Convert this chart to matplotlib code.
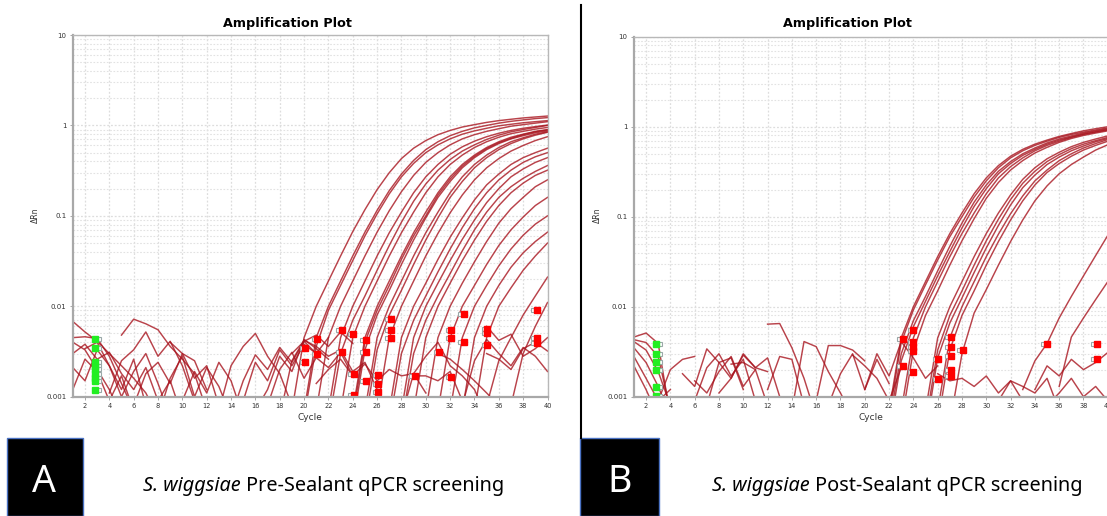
# qPCR 扩增曲线，左右两块（封闭前/封闭后）
import matplotlib.pyplot as plt
from matplotlib.patches import Rectangle
from matplotlib.ticker import NullFormatter
import numpy as np

# ---- A: Pre-Sealant ----
# 上升曲线，每条最后一个值是第40个循环
pre_rise = [
    [0.0007, 0.0045, 0.010, 0.019, 0.036, 0.067, 0.117, 0.195, 0.30, 0.43, 0.56, 0.68, 0.79, 0.88, 0.96, 1.02, 1.08, 1.13, 1.17, 1.21, 1.24, 1.27],
    [0.0007, 0.0045, 0.010, 0.019, 0.036, 0.066, 0.115, 0.19, 0.29, 0.41, 0.54, 0.66, 0.77, 0.86, 0.94, 1.0, 1.06, 1.11, 1.15, 1.19, 1.22],
    [0.0006, 0.0036, 0.009, 0.017, 0.032, 0.06, 0.105, 0.175, 0.27, 0.38, 0.50, 0.61, 0.71, 0.80, 0.87, 0.93, 0.99, 1.03, 1.07, 1.10, 1.13],
    [0.0007, 0.0045, 0.010, 0.019, 0.036, 0.066, 0.114, 0.185, 0.28, 0.39, 0.50, 0.61, 0.71, 0.79, 0.86, 0.92, 0.98, 1.02, 1.06, 1.10],
    [0.0007, 0.0045, 0.010, 0.019, 0.036, 0.065, 0.11, 0.18, 0.27, 0.37, 0.48, 0.58, 0.67, 0.75, 0.82, 0.88, 0.93, 0.97, 1.01],
    [0.0005, 0.003, 0.007, 0.013, 0.025, 0.047, 0.085, 0.145, 0.225, 0.32, 0.42, 0.52, 0.61, 0.70, 0.78, 0.85, 0.90, 0.95, 1.0],
    [0.0007, 0.0045, 0.010, 0.019, 0.036, 0.065, 0.11, 0.18, 0.27, 0.37, 0.47, 0.57, 0.66, 0.74, 0.81, 0.86, 0.91, 0.95],
    [0.0007, 0.0045, 0.010, 0.019, 0.036, 0.065, 0.11, 0.18, 0.27, 0.37, 0.47, 0.57, 0.66, 0.74, 0.80, 0.86, 0.90],
    [0.0005, 0.0033, 0.008, 0.015, 0.029, 0.054, 0.095, 0.16, 0.24, 0.34, 0.44, 0.54, 0.63, 0.71, 0.77, 0.83, 0.87],
    [0.0006, 0.004, 0.009, 0.017, 0.033, 0.06, 0.10, 0.17, 0.255, 0.355, 0.455, 0.555, 0.645, 0.72, 0.79, 0.85, 0.89],
    [0.0007, 0.0045, 0.010, 0.019, 0.036, 0.065, 0.11, 0.18, 0.27, 0.37, 0.47, 0.57, 0.66, 0.73, 0.80, 0.85],
    [0.0005, 0.0033, 0.008, 0.015, 0.029, 0.054, 0.095, 0.16, 0.24, 0.34, 0.44, 0.54, 0.63, 0.71, 0.78, 0.84],
    [0.0007, 0.0045, 0.010, 0.019, 0.036, 0.064, 0.108, 0.17, 0.25, 0.34, 0.43, 0.52, 0.60, 0.68, 0.75],
    [0.0007, 0.0045, 0.010, 0.018, 0.033, 0.058, 0.095, 0.15, 0.22, 0.29, 0.37, 0.44, 0.50, 0.56],
    [0.0005, 0.003, 0.007, 0.013, 0.024, 0.043, 0.074, 0.12, 0.18, 0.25, 0.32, 0.39, 0.45, 0.50],
    [0.0007, 0.0045, 0.010, 0.018, 0.032, 0.055, 0.09, 0.14, 0.20, 0.27, 0.33, 0.39, 0.44],
    [0.0005, 0.003, 0.007, 0.013, 0.023, 0.041, 0.07, 0.11, 0.16, 0.21, 0.26, 0.31, 0.36],
    [0.0007, 0.0045, 0.010, 0.018, 0.032, 0.054, 0.087, 0.13, 0.18, 0.23, 0.28, 0.32],
    [0.0007, 0.0045, 0.010, 0.018, 0.031, 0.052, 0.083, 0.12, 0.16, 0.21, 0.25],
    [0.0007, 0.0045, 0.010, 0.017, 0.029, 0.047, 0.07, 0.097, 0.13, 0.16],
    [0.0007, 0.0045, 0.010, 0.017, 0.028, 0.043, 0.061, 0.081, 0.10],
    [0.0007, 0.0045, 0.010, 0.017, 0.027, 0.039, 0.052, 0.066],
    [0.0007, 0.0045, 0.010, 0.016, 0.025, 0.036, 0.05],
    [0.0008, 0.0025, 0.0045, 0.008, 0.013, 0.021],
    [0.0008, 0.003, 0.006, 0.011],
]
# 基线噪声：起始循环 + 数值
pre_noise_start = [1, 1, 1, 1, 1, 5, 4, 6, 2, 8, 13, 14, 15, 16, 17, 18, 21, 28, 33, 35, 9, 1, 10, 19, 29, 35, 31]
pre_noise = [
    [0.0068, 0.0052, 0.0041, 0.0030, 0.0022, 0.0016, 0.0011, 0.0006],
    [0.0045, 0.0046, 0.0044, 0.0028, 0.0014, 0.0007],
    [0.0030, 0.0038, 0.0026, 0.0031, 0.0018, 0.0012, 0.0021, 0.0009, 0.0015, 0.0006],
    [0.0021, 0.0015, 0.0033, 0.0022, 0.0012, 0.0026, 0.0008],
    [0.0012, 0.0026, 0.0019, 0.0009, 0.0017, 0.0007],
    [0.0048, 0.0072, 0.0064, 0.0055, 0.0036, 0.0026, 0.0018, 0.0007],
    [0.0011, 0.0025, 0.0033, 0.0052, 0.0028, 0.0041, 0.0022, 0.0009],
    [0.0008, 0.0018, 0.0024, 0.0014, 0.0030, 0.0016, 0.0022, 0.0008],
    [0.0034, 0.0040, 0.0022, 0.0010, 0.0019, 0.0030, 0.0014, 0.0006],
    [0.0006, 0.0016, 0.0028, 0.0010, 0.0021, 0.0013, 0.0006],
    [0.0007, 0.0022, 0.0036, 0.0050, 0.0028, 0.0018, 0.0008],
    [0.0006, 0.0015, 0.0029, 0.0020, 0.0035, 0.0024, 0.0041, 0.0030],
    [0.0009, 0.0024, 0.0015, 0.0033, 0.0022, 0.0038, 0.0030, 0.0045],
    [0.0007, 0.0012, 0.0028, 0.0019, 0.0043, 0.0034, 0.0026],
    [0.0008, 0.0020, 0.0031, 0.0016, 0.0027, 0.0021, 0.0031, 0.0017],
    [0.0006, 0.0025, 0.0042, 0.0036, 0.0028, 0.0033, 0.0019, 0.0024, 0.0012],
    [0.0014, 0.0020, 0.0026, 0.0017, 0.0023, 0.0015, 0.0020, 0.0017, 0.0018, 0.0011],
    [0.0006, 0.0018, 0.0028, 0.0040, 0.0022, 0.0017, 0.0012, 0.0006],
    [0.0008, 0.0025, 0.0043, 0.0030, 0.0022, 0.0035, 0.0028, 0.0019],
    [0.0030, 0.0026, 0.0020, 0.0034, 0.0040, 0.0032],
    [0.0040, 0.0030, 0.0025, 0.0012],
    [0.0040, 0.0033, 0.0020, 0.0012, 0.0006],
    [0.0009, 0.0019, 0.0011, 0.0024, 0.0015, 0.0006],
    [0.0030, 0.0041, 0.0048, 0.0036, 0.0052, 0.0039],
    [0.0017, 0.0017, 0.0015, 0.0019, 0.0009],
    [0.0060, 0.0042, 0.0049, 0.0028, 0.0034, 0.0045],
    [0.0030, 0.0026, 0.0020, 0.0015, 0.0011, 0.0008],
]
pre_red_cyc = [20.1, 20.1, 21.1, 21.1, 23.1, 23.1, 24.05, 24.1, 25.1, 25.1, 25.1, 24.1, 26.1, 26.1, 26.1,
               27.15, 27.15, 27.15, 29.1, 31.1, 32.1, 32.1, 32.1, 33.15, 33.15, 35.06, 35.06, 35.06, 39.1, 39.1, 39.1]
pre_red_val = [0.0035, 0.00243, 0.0044, 0.0030, 0.0055, 0.0031, 0.0049, 0.0018, 0.0042, 0.0031, 0.0015, 0.00104,
               0.00173, 0.00138, 0.00112, 0.0072, 0.0055, 0.0045, 0.0017, 0.0031, 0.0055, 0.0045, 0.00166,
               0.0082, 0.0040, 0.0056, 0.0051, 0.0037, 0.0091, 0.0045, 0.0039]
pre_green_val = [0.0044, 0.0035, 0.0024, 0.0022, 0.0020, 0.0018, 0.0016, 0.0015, 0.0012]

# ---- B: Post-Sealant ----
post_rise = [
    [0.0007, 0.0045, 0.010, 0.019, 0.036, 0.065, 0.11, 0.18, 0.27, 0.37, 0.47, 0.56, 0.64, 0.71, 0.78, 0.84, 0.90, 0.95, 1.0],
    [0.0006, 0.004, 0.0092, 0.0175, 0.033, 0.06, 0.10, 0.165, 0.25, 0.35, 0.45, 0.54, 0.62, 0.69, 0.76, 0.82, 0.87, 0.92, 0.97],
    [0.0005, 0.003, 0.007, 0.013, 0.025, 0.047, 0.085, 0.145, 0.225, 0.32, 0.41, 0.50, 0.58, 0.66, 0.73, 0.79, 0.85, 0.90, 0.95],
    [0.0004, 0.0025, 0.006, 0.0115, 0.022, 0.041, 0.075, 0.13, 0.205, 0.30, 0.39, 0.48, 0.56, 0.64, 0.71, 0.77, 0.83, 0.88, 0.93],
    [0.0007, 0.0045, 0.010, 0.019, 0.036, 0.065, 0.11, 0.18, 0.27, 0.36, 0.45, 0.54, 0.62, 0.69, 0.76, 0.82, 0.87, 0.92],
    [0.0005, 0.0033, 0.008, 0.015, 0.029, 0.054, 0.095, 0.16, 0.24, 0.33, 0.42, 0.51, 0.59, 0.67, 0.74, 0.80, 0.85, 0.90],
    [0.0007, 0.0045, 0.010, 0.019, 0.036, 0.065, 0.11, 0.175, 0.26, 0.35, 0.44, 0.52, 0.60, 0.67, 0.73, 0.79],
    [0.0005, 0.0033, 0.008, 0.015, 0.029, 0.054, 0.094, 0.155, 0.235, 0.32, 0.41, 0.49, 0.57, 0.64, 0.70, 0.76],
    [0.0004, 0.0027, 0.0066, 0.0125, 0.024, 0.045, 0.08, 0.135, 0.21, 0.29, 0.38, 0.46, 0.54, 0.61, 0.68, 0.74],
    [0.0007, 0.0045, 0.010, 0.019, 0.036, 0.064, 0.108, 0.17, 0.25, 0.33, 0.42, 0.50, 0.58, 0.65, 0.72],
    [0.0005, 0.0033, 0.008, 0.015, 0.029, 0.053, 0.092, 0.15, 0.225, 0.31, 0.39, 0.47, 0.55, 0.62, 0.69],
    [0.0005, 0.003, 0.0085, 0.0155, 0.029, 0.053, 0.092, 0.15, 0.22, 0.30, 0.38, 0.46, 0.55, 0.63],
    [0.0012, 0.0025, 0.0039, 0.0075, 0.013, 0.022, 0.037, 0.062],
    [0.0013, 0.0046, 0.0075, 0.012, 0.019],
]
post_noise_start = [1, 1, 1, 1, 1, 1, 3, 5, 6, 6, 7, 8, 9, 12, 12, 14, 16, 17, 19, 20, 26, 31, 34, 35]
post_noise = [
    [0.0046, 0.0051, 0.0039, 0.0006],
    [0.0043, 0.0040, 0.0028, 0.0007],
    [0.0041, 0.0033, 0.0019, 0.0008],
    [0.0035, 0.0024, 0.0013, 0.0006],
    [0.0028, 0.0016, 0.0009, 0.0012],
    [0.0022, 0.0012, 0.0006],
    [0.0009, 0.0020, 0.0026, 0.0028],
    [0.0018, 0.0013, 0.0034, 0.0024, 0.0027, 0.0012],
    [0.0009, 0.0021, 0.0030, 0.0017, 0.0026, 0.0009],
    [0.0015, 0.0011, 0.0019, 0.0028, 0.0013, 0.0020, 0.0008],
    [0.0008, 0.0024, 0.0016, 0.0030, 0.0021, 0.0019],
    [0.0011, 0.0016, 0.0029, 0.0021, 0.0027, 0.0010],
    [0.0023, 0.0024, 0.0020],
    [0.0064, 0.0065, 0.0035, 0.0016, 0.0006],
    [0.0012, 0.0028, 0.0026, 0.0008],
    [0.0007, 0.0041, 0.0036, 0.0019, 0.0011, 0.0006],
    [0.0009, 0.0037, 0.0037, 0.0033, 0.0025],
    [0.0008, 0.0018, 0.0030, 0.0012, 0.0026, 0.0014],
    [0.0029, 0.0022, 0.0016, 0.0009, 0.0021],
    [0.0012, 0.0030, 0.0017, 0.0041, 0.0027, 0.0016, 0.0022],
    [0.0018, 0.0015, 0.0016, 0.0013, 0.0017, 0.0011, 0.0015, 0.0009],
    [0.0009, 0.0015, 0.0013, 0.0011, 0.0016, 0.0007],
    [0.0012, 0.0022, 0.0017, 0.0026, 0.0020, 0.0024, 0.0031],
    [0.0008, 0.0011, 0.0016, 0.0010, 0.0013, 0.0009],
]
post_red_cyc = [23.13, 24.0, 24.0, 24.0, 24.0, 23.13, 24.0, 26.06, 26.06, 27.07, 27.07, 27.07, 27.07, 27.07,
                28.07, 34.98, 39.1, 39.1]
post_red_val = [0.00434, 0.0055, 0.0041, 0.0036, 0.0032, 0.0022, 0.0019, 0.0026, 0.00157, 0.00464, 0.0036,
                0.0028, 0.0020, 0.0017, 0.0033, 0.0039, 0.0039, 0.0026]
post_green_val = [0.0039, 0.0030, 0.0024, 0.0020, 0.00127, 0.00102]

green_cycle = 2.85
W, H = 1107, 516
line_c = '#a8141e'


def px(x, y):
    return x / W, 1 - y / H


def draw_panel(ax, rise, n_start, noise, red_c, red_v, green_v):
    for v in rise:
        ax.plot(np.arange(41 - len(v), 41), v, color=line_c, lw=1.05, alpha=0.8)
    for s, v in zip(n_start, noise):
        ax.plot(np.arange(s, s + len(v)), v, color=line_c, lw=1.05, alpha=0.8)
    rc = np.array(red_c)
    ax.plot(rc - 0.3, red_v, 's', ms=3.5, mfc='white', mec='#9aa8a8', mew=0.8, ls='none')
    ax.plot(rc, red_v, 's', ms=3.8, color='#ff0000', ls='none')
    ax.plot([green_cycle + 0.3] * len(green_v), green_v, 's', ms=3.5, mfc='white', mec='#9aa8a8', mew=0.8, ls='none')
    ax.plot([green_cycle] * len(green_v), green_v, 's', ms=3.8, color='#22ee22', ls='none')

    ax.set_yscale('log')
    ax.set_xlim(1, 40)
    ax.set_ylim(0.001, 10)
    ax.set_xticks(range(2, 41, 2))
    ax.set_xticklabels([str(i) for i in range(2, 41, 2)], fontsize=4.8, color='#333333')
    ax.set_yticks([0.001, 0.01, 0.1, 1, 10])
    ax.set_yticklabels(['0.001', '0.01', '0.1', '1', '10'], fontsize=5, color='#333333')
    ax.yaxis.set_minor_formatter(NullFormatter())
    ax.tick_params(which='major', length=2.5, width=0.6, color='#999999', pad=2)
    ax.tick_params(which='minor', length=0)
    ax.grid(which='major', color='#dddddd', ls=(0, (1.5, 1.5)), lw=0.9)
    ax.grid(which='minor', axis='y', color='#e2e2e2', ls=(0, (1.5, 1.5)), lw=0.8)
    ax.set_axisbelow(True)
    for side in ['top', 'right']:
        ax.spines[side].set_color('#b8b8b8')
        ax.spines[side].set_linewidth(1.0)
    for side in ['left', 'bottom']:
        ax.spines[side].set_color('#a8a8a8')
        ax.spines[side].set_linewidth(1.6)


fig = plt.figure(figsize=(W / 100, H / 100), dpi=100)
ax1 = fig.add_axes([72.8 / W, 1 - 396.7 / H, 474.7 / W, 361.7 / H])
ax2 = fig.add_axes([633.9 / W, 1 - 396.7 / H, 473.9 / W, 360.0 / H])
draw_panel(ax1, pre_rise, pre_noise_start, pre_noise, pre_red_cyc, pre_red_val, pre_green_val)
draw_panel(ax2, post_rise, post_noise_start, post_noise, post_red_cyc, post_red_val, post_green_val)

for cx, dx, lx in [(287, 35, 310), (847, 597, 871)]:
    fig.text(*px(cx, 23), 'Amplification Plot', ha='center', va='center', fontsize=9.2, fontweight='bold')
    fig.text(*px(dx, 215), 'ΔRn', ha='center', va='center', rotation=90, fontsize=5.5, color='#333333')
    fig.text(*px(lx, 417), 'Cycle', ha='center', va='center', fontsize=6.5, color='#333333')

# 中间分隔线
fig.add_artist(plt.Line2D([580.7 / W, 580.7 / W], [1 - 5 / H, 1 - 438 / H], color='black', lw=1.5))

# 底部黑框和说明
for (x0, x1), letter, lx in [((7, 83), 'A', 44), ((580, 659), 'B', 620)]:
    fig.add_artist(Rectangle(px(x0, 516), (x1 - x0) / W, (516 - 438) / H, transform=fig.transFigure,
                             facecolor='black', edgecolor='#4a72c4', lw=1.0))
    fig.text(*px(lx, 482), letter, ha='center', va='center', color='white', fontsize=27, family='Noto Sans')

for ax, sx, rest in [(ax1, 143, ' Pre-Sealant qPCR screening'), (ax2, 712, ' Post-Sealant qPCR screening')]:
    t1 = fig.text(*px(sx, 496), 'S. wiggsiae', style='italic', fontsize=14.3, family='Noto Sans', va='bottom')
    ax.annotate(rest, xy=(1, 0), xycoords=t1, va='bottom', ha='left', fontsize=14.3, family='Noto Sans')

fig.savefig('out.png', dpi=100)
